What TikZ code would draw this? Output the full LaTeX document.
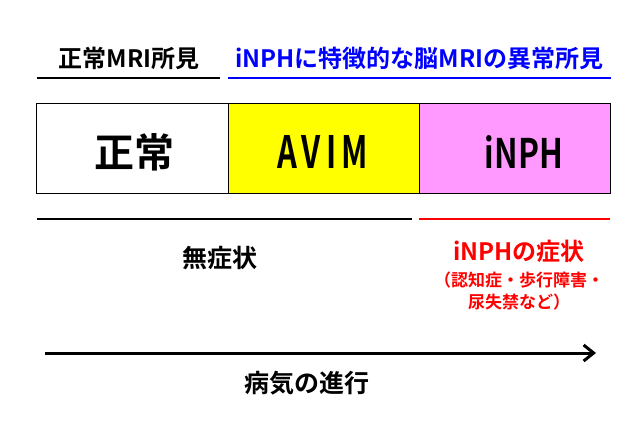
\documentclass[tikz,border=0pt]{standalone}
\usepackage{fontspec}
\usepackage{graphicx}
\setmainfont{Noto Sans CJK JP}[BoldFont={Noto Sans CJK JP Bold}]
\usetikzlibrary{arrows.meta}
\definecolor{myblue}{RGB}{0,0,255}
\definecolor{myred}{RGB}{255,0,0}
\definecolor{myyellow}{RGB}{255,255,0}
\definecolor{mypink}{RGB}{255,153,255}
\begin{document}
\begin{tikzpicture}[x=1pt,y=-1pt,
  seg/.style={draw=black,line width=1.2pt,minimum height=90pt,inner sep=0pt},
  bigtxt/.style={font=\bfseries\fontsize{40}{44}\selectfont,inner sep=0pt},
  hdr/.style={font=\bfseries\fontsize{24}{28}\selectfont,inner sep=0pt},
  low/.style={font=\bfseries\fontsize{25}{29}\selectfont,inner sep=0pt},
  sub/.style={font=\bfseries\fontsize{17}{20}\selectfont,text=myred,inner sep=0pt},
  uline/.style={line width=1.5pt}]
\useasboundingbox (0,0) rectangle (640,425);
\fill[white] (0,0) rectangle (640,425);
% boxes
\node[seg,fill=white,minimum width=192pt,anchor=north west] (n) at (36,103) {};
\node[seg,fill=myyellow,minimum width=191pt,anchor=north west] (a) at (228,103) {};
\node[seg,fill=mypink,minimum width=191pt,anchor=north west] (p) at (419,103) {};
\node[bigtxt] (nt) at (134,152) {正常};
\node[inner sep=0pt] (at) at (322.5,151.5) {\resizebox{91pt}{33pt}{\bfseries A\,V\,I\,M}};
\node[inner sep=0pt] (pt) at (524,151.5) {\resizebox{78pt}{33pt}{\bfseries iNPH}};
% headers
\node[hdr] (h1) at (129,58) {正常MRI所見};
\node[hdr,text=myblue] (h2) at (419.5,58) {iNPHに特徴的な脳MRIの異常所見};
\coordinate (l1a) at (37,78); \coordinate (l1b) at (220,78);
\coordinate (l2a) at (228,78); \coordinate (l2b) at (611,78);
\draw[uline,black] (l1a) -- (l1b);
\draw[uline,myblue] (l2a) -- (l2b);
% symptom lines
\coordinate (l3a) at (37,219); \coordinate (l3b) at (412,219);
\coordinate (l4a) at (419,219); \coordinate (l4b) at (610,219);
\draw[uline,black] (l3a) -- (l3b);
\draw[uline,myred] (l4a) -- (l4b);
\node[low] (ns) at (220,258) {無症状};
\node[hdr,text=myred] (s1) at (519,251) {iNPHの症状};
\node[sub] (s2) at (519,280) {（認知症・歩行障害・};
\node[sub] (s3) at (519,302) {尿失禁など）};
% arrow
\coordinate (ar1) at (45,353); \coordinate (ar2) at (596,353);
\draw[line width=3pt,-{Straight Barb[length=10pt,width=16pt,line width=3pt]}] (ar1) -- (ar2);
\node[low] (prog) at (307,383) {病気の進行};
\end{tikzpicture}
\end{document}
